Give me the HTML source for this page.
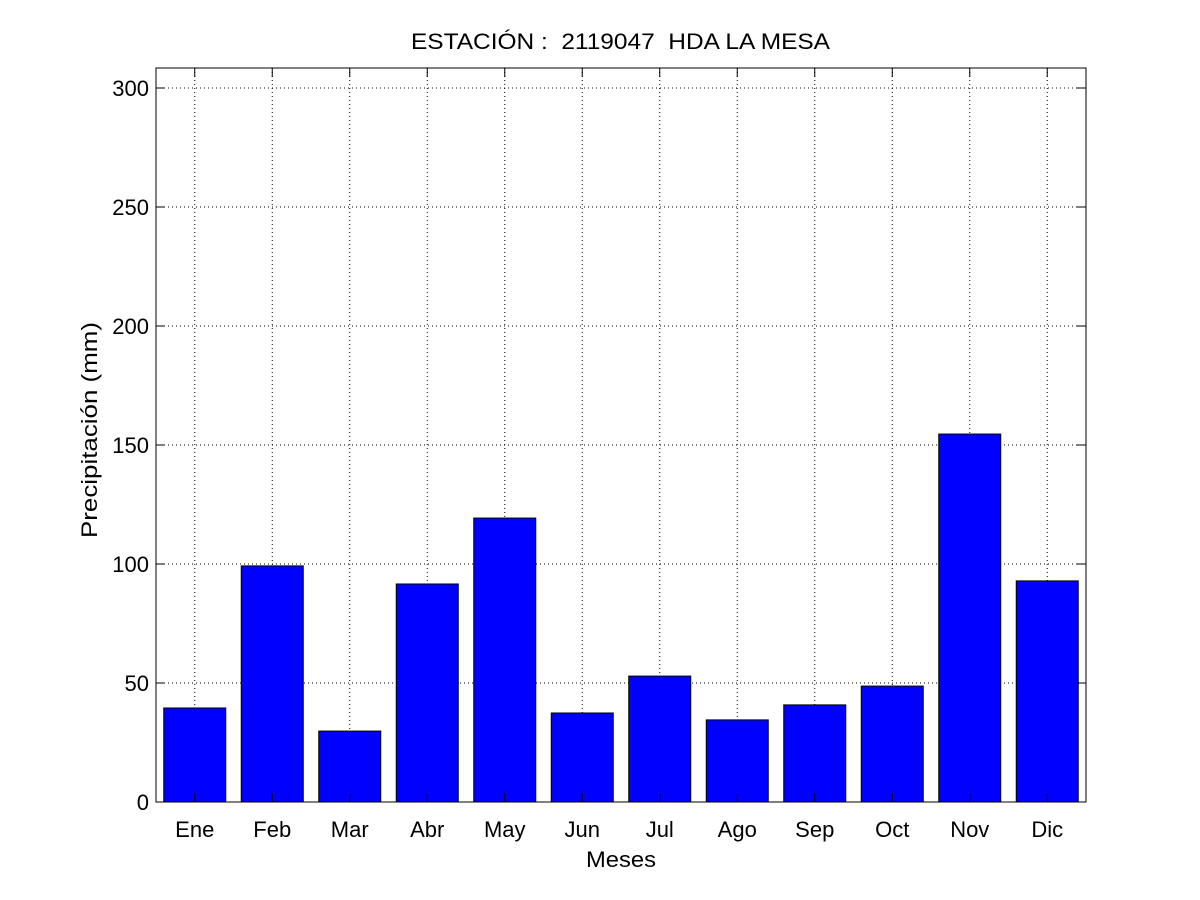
<!DOCTYPE html>
<html><head><meta charset="utf-8"><style>
html,body{margin:0;padding:0;background:#fff;}
svg{display:block;font-family:"Liberation Sans",sans-serif;}
</style></head><body>
<svg id="chart" width="1200" height="900"></svg>
<script>
const categories=["Ene","Feb","Mar","Abr","May","Jun","Jul","Ago","Sep","Oct","Nov","Dic"];
const values=[39.5,99.2,29.8,91.6,119.3,37.4,52.9,34.5,40.8,48.7,154.6,92.9];
const yTicks=[0,50,100,150,200,250,300];
const NS="http://www.w3.org/2000/svg";
const svg=document.getElementById('chart');
const L=156,R=1086,T=68,B=802;
const yMax=(B-T)/2.38;
function y(v){return B-(v/yMax)*(B-T);}
const step=(R-L)/categories.length;
function x(i){return L+step*(i+0.5);}
function mk(tag,attrs,parent){const e=document.createElementNS(NS,tag);for(const k in attrs)e.setAttribute(k,attrs[k]);(parent||svg).appendChild(e);return e;}
const bg=mk('rect',{x:L,y:T,width:R-L,height:B-T,fill:'#fff'});


yTicks.forEach(t=>{
 const g=mk('line',{x1:L,x2:R,y1:y(t),y2:y(t),stroke:'#000','stroke-width':1,'stroke-dasharray':'1,3'});
 
 
});
categories.forEach((c,i)=>{
 const g=mk('line',{x1:x(i),x2:x(i),y1:T,y2:B,stroke:'#000','stroke-width':1,'stroke-dasharray':'1,3'});
 
 
});
values.forEach((v,i)=>{
 const w=step*0.8;
 const b=mk('rect',{x:x(i)-w/2,y:y(v),width:w,height:B-y(v),fill:'#0000ff',stroke:'#000','stroke-width':1});
 
 
});
const box=mk('rect',{x:L,y:T,width:R-L,height:B-T,fill:'none',stroke:'#000','stroke-width':1});


yTicks.forEach(t=>{
 mk('line',{x1:L,x2:L+9,y1:y(t),y2:y(t),stroke:'#000'});
 mk('line',{x1:R-9,x2:R,y1:y(t),y2:y(t),stroke:'#000'});
 const lb=mk('text',{x:L-7,y:y(t)+8,'text-anchor':'end','font-size':22});
 lb.textContent=t;
 
 
});
categories.forEach((c,i)=>{
 mk('line',{x1:x(i),x2:x(i),y1:B,y2:B-9,stroke:'#000'});
 mk('line',{x1:x(i),x2:x(i),y1:T,y2:T+9,stroke:'#000'});
 const lb=mk('text',{x:x(i),y:B+35,'text-anchor':'middle','font-size':22});
 lb.textContent=c;
 
 
});
const title=mk('text',{x:411,y:49,'font-size':22,textLength:419,lengthAdjust:'spacingAndGlyphs'});
title.textContent='ESTACIÓN :  2119047  HDA LA MESA';


title.setAttribute('xml:space','preserve');
title.style.whiteSpace='pre';
const xt=mk('text',{x:586,y:867,'font-size':22,textLength:70,lengthAdjust:'spacingAndGlyphs'});
xt.textContent='Meses';


const yt=mk('text',{x:-538,y:97,'font-size':22,transform:'rotate(-90)',textLength:216,lengthAdjust:'spacingAndGlyphs'});
yt.textContent='Precipitación (mm)';


</script>
</body></html>
